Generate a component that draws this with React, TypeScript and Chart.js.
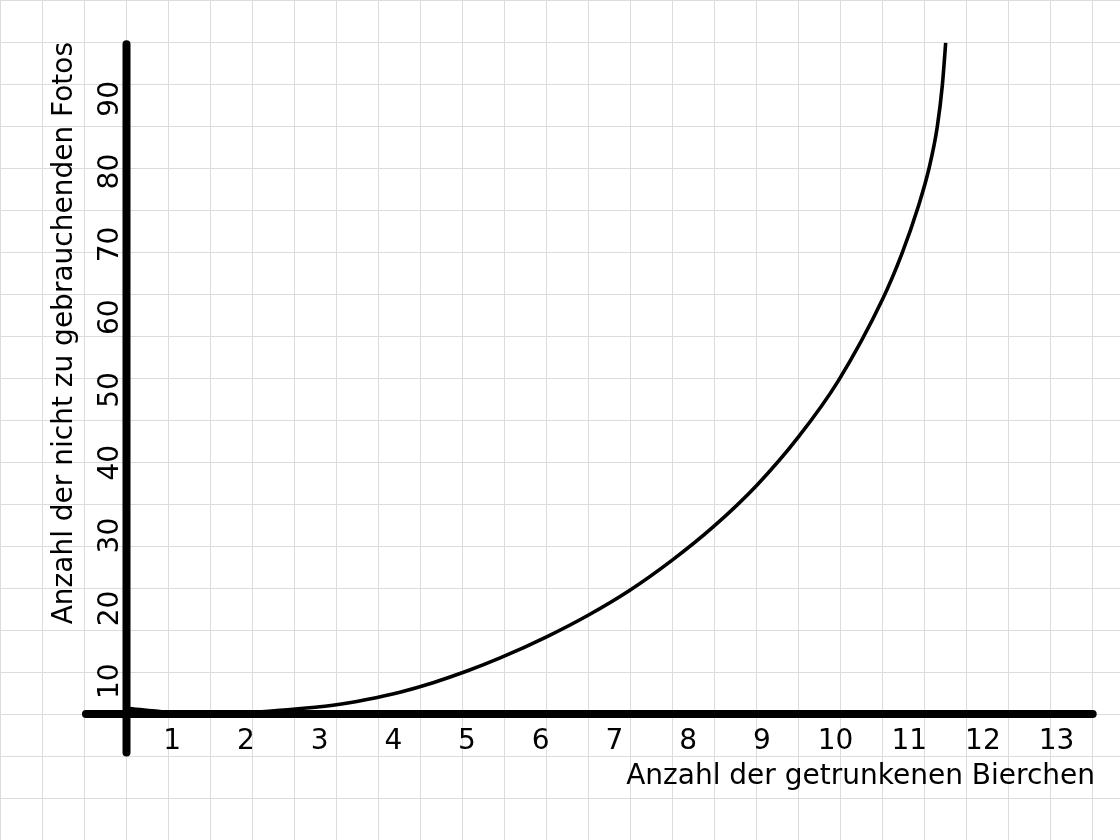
import React, { useEffect, useRef } from 'react';
import { Chart, registerables } from 'chart.js';

Chart.register(...registerables);

// Data
const beerCounts = [0, 0.55, 1.0, 1.68, 2.08, 2.8, 3.26, 3.71, 4.16, 4.62, 5.07, 5.7, 6.27, 6.83, 7.4, 7.96, 8.55, 9.12, 9.66, 10.26, 10.52, 10.74, 10.89, 11.0, 11.07, 11.115];
const unusablePhotos = [0.8, 0.25, 0.05, 0.2, 0.5, 1.2, 2.0, 3.0, 4.3, 5.9, 7.7, 10.6, 13.6, 17.0, 21.1, 25.7, 31.4, 38.1, 45.8, 57.0, 63.2, 69.6, 75.0, 80.6, 86.4, 92.2];

const xTickValues = [1, 2, 3, 4, 5, 6, 7, 8, 9, 10, 11, 12, 13];
const yTickValues = [10, 20, 30, 40, 50, 60, 70, 80, 90];

const xTitle = 'Anzahl der getrunkenen Bierchen';
const yTitle = 'Anzahl der nicht zu gebrauchenden Fotos';

// Axis line extents (data units)
const xAxisExtent = [-0.55, 13.11];
const yAxisExtent = [-5.3, 92.0];

const FONT = 'DejaVu Sans';

const gridBackground = {
  id: 'gridBackground',
  beforeDraw(chart: any) {
    const { ctx, width, height } = chart;
    ctx.save();
    ctx.fillStyle = '#ffffff';
    ctx.fillRect(0, 0, width, height);
    ctx.strokeStyle = '#dcdcdc';
    ctx.lineWidth = 1;
    ctx.beginPath();
    for (let x = 0; x <= width; x += 42) {
      ctx.moveTo(x + 0.5, 0);
      ctx.lineTo(x + 0.5, height);
    }
    for (let y = 0; y <= height; y += 42) {
      ctx.moveTo(0, y + 0.5);
      ctx.lineTo(width, y + 0.5);
    }
    ctx.stroke();
    ctx.restore();
  },
};

export default function App() {
  const ref = useRef<HTMLCanvasElement>(null);

  useEffect(() => {
    if (!ref.current) return;
    const chart = new Chart(ref.current, {
      type: 'line',
      data: {
        datasets: [
          {
            label: 'xAxis',
            data: [
              { x: xAxisExtent[0], y: 0 },
              { x: xAxisExtent[1], y: 0 },
            ],
            borderColor: '#000',
            borderWidth: 8,
            borderCapStyle: 'round',
            pointRadius: 0,
            clip: false,
            fill: false,
          },
          {
            label: 'yAxis',
            data: [
              { x: 0, y: yAxisExtent[0] },
              { x: 0, y: yAxisExtent[1] },
            ],
            borderColor: '#000',
            borderWidth: 8,
            borderCapStyle: 'round',
            pointRadius: 0,
            clip: false,
            fill: false,
          },
          {
            label: 'Fotos',
            data: beerCounts.map((x, i) => ({ x, y: unusablePhotos[i] })),
            borderColor: '#000',
            borderWidth: 3.6,
            pointRadius: 0,
            cubicInterpolationMode: 'monotone',
            clip: false,
            fill: false,
          },
        ],
      },
      options: {
        responsive: false,
        animation: false,
        events: [],
        layout: { padding: { top: 42, right: 25, bottom: 0, left: 0 } },
        plugins: {
          legend: { display: false },
          tooltip: { enabled: false },
        },
        scales: {
          x: {
            type: 'linear',
            min: 0.0475,
            max: 13.141,
            grid: { display: false, drawTicks: false },
            border: { display: false },
            afterBuildTicks: (axis: any) => {
              axis.ticks = xTickValues.map((v) => ({ value: v }));
            },
            afterFit: (scale: any) => {
              scale.height = 120;
            },
            ticks: {
              autoSkip: false,
              maxRotation: 0,
              minRotation: 0,
              labelOffset: -28,
              padding: 5,
              color: '#000',
              font: { family: FONT, size: 28 },
            },
            title: {
              display: true,
              text: xTitle,
              align: 'end',
              color: '#000',
              font: { family: FONT, size: 28 },
              padding: { top: 0, bottom: 46.5 },
            },
          },
          y: {
            type: 'linear',
            min: -0.824,
            max: 92.31,
            grid: { display: false, drawTicks: false },
            border: { display: false },
            afterBuildTicks: (axis: any) => {
              axis.ticks = yTickValues.map((v) => ({ value: v }));
            },
            afterFit: (scale: any) => {
              scale.width = 130;
            },
            ticks: {
              autoSkip: false,
              minRotation: 90,
              maxRotation: 90,
              crossAlign: 'center',
              labelOffset: 40,
              padding: 1.3,
              color: '#000',
              font: { family: FONT, size: 28 },
            },
            title: {
              display: true,
              text: yTitle,
              align: 'end',
              color: '#000',
              font: { family: FONT, size: 28 },
              padding: { top: 48.4, bottom: 0 },
            },
          },
        },
      },
      plugins: [gridBackground],
    } as any);
    return () => chart.destroy();
  }, []);

  return (
    <div style={{ position: 'absolute', left: 0, top: 0, width: 1120, height: 840 }}>
      <canvas ref={ref} width={1120} height={840} style={{ display: 'block' }} />
    </div>
  );
}
